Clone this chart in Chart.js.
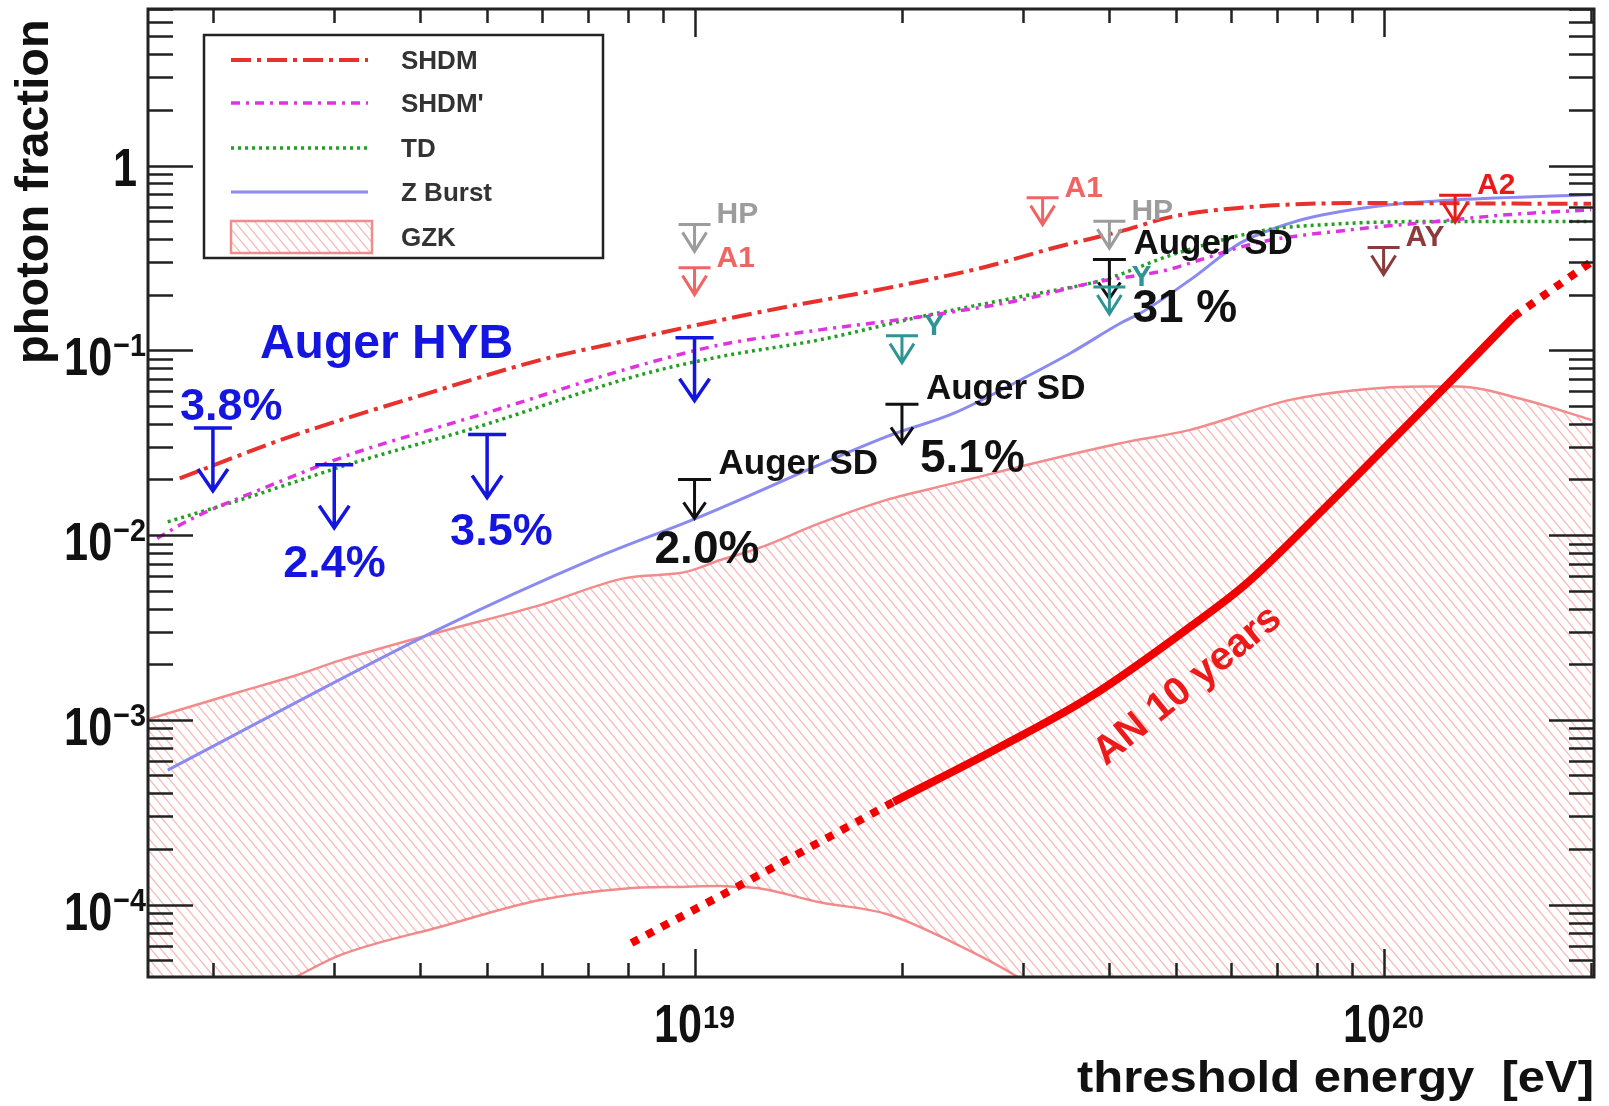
<!DOCTYPE html>
<html lang="en">
<head>
<meta charset="UTF-8" />
<title>Photon fraction limits</title>
<script src="https://cdn.jsdelivr.net/npm/chart.js"></script>
<style>
  html, body { margin: 0; padding: 0; background: #fff; }
  canvas { display: block; }
</style>
</head>
<body>
<canvas id="chart" width="1609" height="1106"></canvas>
<script>
// axis ranges
const xMin = 1.61e18, xMax = 2.02e20;
const yMin = 4.06e-5, yMax = 7.03;

// model curves: threshold energy [eV] vs photon fraction
const shdmE = [1.79e18, 2.59e18, 4.18e18, 5.98e18, 7.8e18, 1.008e19, 1.362e19, 1.902e19, 2.657e19, 3.316e19, 4.148e19, 4.95e19, 6.56e19, 9.16e19, 2.0e20];
const shdmF = [0.0203, 0.0341, 0.0598, 0.0887, 0.111, 0.137, 0.172, 0.217, 0.284, 0.358, 0.44, 0.53, 0.60, 0.626, 0.62];

const shdmPE = [1.66e18, 1.85e18, 2.34e18, 3.2e18, 4.28e18, 5.34e18, 7.89e18, 1.09e19, 1.52e19, 2.13e19, 2.97e19, 3.78e19, 4.85e19, 5.42e19, 6.56e19, 8.95e19, 1.14e20, 1.51e20, 2.0e20];
const shdmPF = [0.0096, 0.0121, 0.0176, 0.0277, 0.0386, 0.0496, 0.0783, 0.107, 0.129, 0.152, 0.187, 0.232, 0.272, 0.309, 0.382, 0.449, 0.49, 0.541, 0.576];

const tdE = [1.72e18, 2.19e18, 3.2e18, 4.78e18, 8.34e18, 1.09e19, 1.52e19, 2.13e19, 2.97e19, 3.92e19, 4.95e19, 6.77e19, 8.17e19, 1.14e20, 2.0e20];
const tdF = [0.0118, 0.0155, 0.0246, 0.0379, 0.0736, 0.0924, 0.114, 0.152, 0.195, 0.2405, 0.33, 0.4485, 0.478, 0.4975, 0.4975];

const zbE = [1.72e18, 4.28e18, 7.06e18, 1.02e19, 1.9e19, 2.38e19, 2.97e19, 3.51e19, 4.15e19, 4.44e19, 5.24e19, 6.19e19, 7.32e19, 8.17e19, 1.02e20, 1.28e20, 2.0e20];
const zbF = [5.35e-4, 3.13e-3, 7.33e-3, 0.0126, 0.0341, 0.0457, 0.0691, 0.0964, 0.140, 0.159, 0.2405, 0.380, 0.488, 0.541, 0.613, 0.652, 0.694];

const gzkE  = [1.6e18, 2.19e18, 2.65e18, 3.06e18, 4.28e18, 5.97e18, 7.89e18, 9.75e18, 1.09e19, 1.14e19, 1.25e19, 1.52e19, 1.9e19, 2.38e19, 2.9e19, 4.15e19, 5.24e19, 7.32e19, 9.16e19, 1.14e20, 1.28e20, 1.6e20, 2.0e20];
const gzkHi = [1.0e-3, 1.42e-3, 1.75e-3, 2.1e-3, 3.0e-3, 4.18e-3, 5.83e-3, 6.34e-3, 7.33e-3, 7.7e-3, 8.6e-3, 0.0116, 0.0155, 0.0191, 0.023, 0.0314, 0.0371, 0.0539, 0.061, 0.0636, 0.0636, 0.054, 0.042];
const gzkLo = [1.6e-5, 2.86e-5, 4.1e-5, 5.33e-5, 7.6e-5, 1.06e-4, 1.22e-4, 1.25e-4, 1.26e-4, 1.25e-4, 1.22e-4, 1.03e-4, 8.9e-5, 6.2e-5, 4.2e-5, 1.6e-5, 8e-6, 4e-6, 2.5e-6, 1.8e-6, 1.5e-6, 1.2e-6, 1e-6];

// AN 10 years sensitivity (solid part plus dotted extensions)
const anE = [1.945e19, 2.78e19, 3.75e19, 5.24e19, 6.3e19, 8.18e19, 1.023e20, 1.278e20, 1.544e20];
const anF = [3.6e-4, 7.15e-4, 1.33e-3, 3.19e-3, 5.4e-3, 0.0138, 0.0319, 0.0736, 0.152];
const anLowE = [8.1e18, 1.14e19, 1.945e19];
const anLowF = [6.2e-5, 1.22e-4, 3.6e-4];
const anHighE = [1.544e20, 2.0e20];
const anHighF = [0.152, 0.30];

// upper limits
const hybE = [2e18, 3e18, 5e18, 1e19];
const hybF = [0.038, 0.024, 0.035, 0.117];
const hybLabels = ['3.8%', '2.4%', '3.5%', ''];
const sdE = [1e19, 2e19, 4e19];
const sdF = [0.020, 0.051, 0.31];
const sdLabels = ['2.0%', '5.1%', '31 %'];
const hpE = [1e19, 4e19],  hpF = [0.48, 0.50];
const a1E = [1e19, 3.2e19], a1F = [0.28, 0.67];
const yE = [2e19, 4e19],   yF = [0.12, 0.22];
const ayE = [1e20],        ayF = [0.36];
const a2E = [1.27e20],     a2F = [0.69];

// axis ticks
const yTickVals = [1e-4, 1e-3, 1e-2, 1e-1, 1];
const yTickBase = ['10', '10', '10', '10', '1'];
const yTickExp  = ['\u22124', '\u22123', '\u22122', '\u22121', ''];
const xTickVals = [1e19, 1e20];
const xTickBase = ['10', '10'];
const xTickExp  = ['19', '20'];

// ---------- styles ----------
const FONT = '"Liberation Sans", Arial, Helvetica, sans-serif';
const sSHDM  = { color: '#e8302c', width: 4,   dash: [20, 6, 4, 6] };
const sSHDMp = { color: '#e033e0', width: 3.5, dash: [9, 6, 3, 6] };
const sTD    = { color: '#22a022', width: 3.5, dash: [3, 4] };
const sZB    = { color: '#8a8af0', width: 3,   dash: [] };
const sGZK   = { color: '#f28c8c', width: 2.5, dash: [] };
const sAN    = { color: '#f20000', width: 8 };

function hatch() {
  const c = document.createElement('canvas');
  c.width = 10; c.height = 12;
  const g = c.getContext('2d');
  g.strokeStyle = 'rgba(240,100,100,0.45)';
  g.lineWidth = 1.3;
  for (let k = -1; k <= 1; k++) {
    g.beginPath();
    g.moveTo(k * 10 - 5, -6);
    g.lineTo(k * 10 + 15, 18);
    g.stroke();
  }
  return g.createPattern(c, 'repeat');
}
const hatchFill = hatch();

const pts = (E, F) => E.map((e, i) => ({ x: e, y: F[i] }));

function curve(label, E, F, s, extra) {
  return Object.assign({
    label: label,
    data: pts(E, F),
    borderColor: s.color,
    borderWidth: s.width,
    borderDash: s.dash || [],
    pointRadius: 0,
    fill: false,
    cubicInterpolationMode: 'monotone'
  }, extra || {});
}

// ---------- drawing helpers ----------
function txt(ctx, s, x, y, font, color, align, sx) {
  sx = sx || 1;
  ctx.save();
  ctx.font = font;
  ctx.fillStyle = color;
  ctx.textAlign = 'left';
  ctx.textBaseline = 'alphabetic';
  const w = ctx.measureText(s).width * sx;
  const x0 = align === 'right' ? x - w : align === 'center' ? x - w / 2 : x;
  ctx.translate(x0, y);
  ctx.scale(sx, 1);
  ctx.fillText(s, 0, 0);
  ctx.restore();
  return w;
}
function measure(ctx, s, font, sx) {
  ctx.save(); ctx.font = font;
  const w = ctx.measureText(s).width * (sx || 1);
  ctx.restore();
  return w;
}
function limit(ctx, x, y, st) {
  ctx.save();
  ctx.strokeStyle = st.color;
  ctx.lineWidth = st.lw;
  ctx.lineCap = 'butt';
  ctx.lineJoin = 'miter';
  ctx.beginPath();
  ctx.moveTo(x - st.cap / 2, y); ctx.lineTo(x + st.cap / 2, y);
  ctx.moveTo(x, y); ctx.lineTo(x, y + st.len);
  ctx.moveTo(x - st.hw / 2, y + st.len - st.hh);
  ctx.lineTo(x, y + st.len);
  ctx.lineTo(x + st.hw / 2, y + st.len - st.hh);
  ctx.stroke();
  ctx.restore();
}

const bigArrow   = { cap: 38, len: 63, hw: 30, hh: 22, lw: 3.5, color: '#1515e0' };
const sdArrow    = { cap: 33, len: 39, hw: 22, hh: 16, lw: 3, color: '#111111' };
const smallArrow = { cap: 32, len: 27, hw: 24, hh: 19, lw: 3 };
const hybOffsets = [[-33, -8], [-51, 112], [-37, 110], [0, 0]];
const sdOffsets  = [[-40, 84], [18, 68], [23, 63]];

const rootStyle = {
  id: 'rootStyle',
  afterDatasetsDraw(chart) {
    const ctx = chart.ctx, ca = chart.chartArea;
    const xs = chart.scales.x, ys = chart.scales.y;
    const X = v => xs.getPixelForValue(v), Y = v => ys.getPixelForValue(v);

    // Auger hybrid limits
    hybE.forEach((e, i) => {
      const cx = X(e), cy = Y(hybF[i]);
      limit(ctx, cx, cy, bigArrow);
      if (hybLabels[i]) txt(ctx, hybLabels[i], cx + hybOffsets[i][0], cy + hybOffsets[i][1], 'bold 45px ' + FONT, '#1515e0');
    });
    txt(ctx, 'Auger HYB', X(2.34e18), Y(0.091), 'bold 48px ' + FONT, '#1515e0');

    // Auger SD limits
    sdE.forEach((e, i) => {
      const cx = X(e), cy = Y(sdF[i]);
      limit(ctx, cx, cy, sdArrow);
      txt(ctx, 'Auger SD', cx + 24, cy - 5, 'bold 35px ' + FONT, '#111');
      txt(ctx, sdLabels[i], cx + sdOffsets[i][0], cy + sdOffsets[i][1], 'bold 46px ' + FONT, '#111');
    });

    // other experiments
    const small = [
      [hpE, hpF, 'HP', '#9c9c9c'],
      [a1E, a1F, 'A1', '#f06464'],
      [yE, yF, 'Y', '#2f9494'],
      [ayE, ayF, 'AY', '#8b3b3b'],
      [a2E, a2F, 'A2', '#e81a1a']
    ];
    small.forEach(([E, F, name, col]) => {
      E.forEach((e, i) => {
        const cx = X(e), cy = Y(F[i]);
        limit(ctx, cx, cy, Object.assign({ color: col }, smallArrow));
        txt(ctx, name, cx + 22, cy - 1, 'bold 30px ' + FONT, col);
      });
    });

    // AN label along the curve
    ctx.save();
    ctx.translate(X(3.95e19), Y(5.6e-4));
    ctx.rotate(-39 * Math.PI / 180);
    txt(ctx, 'AN 10 years', 0, 0, 'bold 40px ' + FONT, '#ee1a1a');
    ctx.restore();

    // frame
    ctx.save();
    ctx.strokeStyle = '#222';
    ctx.lineWidth = 2.5;
    ctx.beginPath();
    for (let d = -5; d <= 0; d++) {
      for (let m = 1; m <= 9; m++) {
        const v = m * Math.pow(10, d);
        if (v < yMin || v > yMax) continue;
        const y = Math.round(Y(v)) + 0.5;
        const len = m === 1 ? 45 : 25;
        ctx.moveTo(ca.left, y); ctx.lineTo(ca.left + len, y);
        ctx.moveTo(ca.right, y); ctx.lineTo(ca.right - len, y);
      }
    }
    for (let d = 18; d <= 20; d++) {
      for (let m = 1; m <= 9; m++) {
        const v = m * Math.pow(10, d);
        if (v < xMin || v > xMax) continue;
        const x = Math.round(X(v)) + 0.5;
        const len = m === 1 ? 28 : 14;
        ctx.moveTo(x, ca.bottom); ctx.lineTo(x, ca.bottom - len);
        ctx.moveTo(x, ca.top); ctx.lineTo(x, ca.top + len);
      }
    }
    ctx.stroke();
    ctx.lineWidth = 3;
    ctx.strokeRect(ca.left, ca.top, ca.right - ca.left, ca.bottom - ca.top);
    ctx.restore();

    // tick labels
    const baseFont = 'bold 54px ' + FONT, expFont = 'bold 32px ' + FONT;
    yTickVals.forEach((v, i) => {
      const y = Y(v);
      if (!yTickExp[i]) {
        txt(ctx, yTickBase[i], 137, y + 20, baseFont, '#111', 'right', 0.8);
        return;
      }
      const ew = txt(ctx, yTickExp[i], 146, y + 6, expFont, '#111', 'right', 0.9);
      txt(ctx, yTickBase[i], 146 - ew - 1, y + 25, baseFont, '#111', 'right', 0.8);
    });
    xTickVals.forEach((v, i) => {
      const x = X(v);
      const bw = measure(ctx, xTickBase[i], baseFont, 0.8);
      const ew = measure(ctx, xTickExp[i], expFont, 0.9);
      const x0 = x - (bw + ew + 1) / 2;
      txt(ctx, xTickBase[i], x0, 1042, baseFont, '#111', 'left', 0.8);
      txt(ctx, xTickExp[i], x0 + bw + 1, 1028, expFont, '#111', 'left', 0.9);
    });

    // axis titles
    const tf = 'bold 44px ' + FONT;
    const tw = measure(ctx, 'threshold energy  [eV]', tf);
    txt(ctx, 'threshold energy  [eV]', ca.right, 1092, tf, '#111', 'right', 517 / tw);
    ctx.save();
    ctx.translate(48, 364);
    ctx.rotate(-Math.PI / 2);
    txt(ctx, 'photon fraction', 0, 0, 'bold 47px ' + FONT, '#111');
    ctx.restore();

    // legend
    const lx = ca.left + 56, ly = ca.top + 26, lw = 399, lh = 223;
    ctx.save();
    ctx.fillStyle = '#fff';
    ctx.fillRect(lx, ly, lw, lh);
    ctx.strokeStyle = '#222';
    ctx.lineWidth = 2.5;
    ctx.strokeRect(lx, ly, lw, lh);
    const rows = [['SHDM', sSHDM, 25], ['SHDM\'', sSHDMp, 68], ['TD', sTD, 113], ['Z Burst', sZB, 157]];
    rows.forEach(([name, s, dy]) => {
      ctx.strokeStyle = s.color;
      ctx.lineWidth = s.width;
      ctx.setLineDash(s.dash);
      ctx.beginPath();
      ctx.moveTo(lx + 27, ly + dy); ctx.lineTo(lx + 164, ly + dy);
      ctx.stroke();
      ctx.setLineDash([]);
      txt(ctx, name, lx + 197, ly + dy + 9, 'bold 26px ' + FONT, '#333');
    });
    ctx.fillStyle = hatchFill;
    ctx.fillRect(lx + 27, ly + 186, 141, 32);
    ctx.strokeStyle = sGZK.color;
    ctx.lineWidth = 2.5;
    ctx.strokeRect(lx + 27, ly + 186, 141, 32);
    txt(ctx, 'GZK', lx + 197, ly + 211, 'bold 26px ' + FONT, '#333');
    ctx.restore();
  }
};

new Chart(document.getElementById('chart'), {
  type: 'scatter',
  data: {
    datasets: [
      curve('AN 10 years', anE, anF, sAN, { borderCapStyle: 'butt' }),
      curve('AN low', anLowE, anLowF, sAN, { borderDash: [8, 9], cubicInterpolationMode: 'default', tension: 0 }),
      curve('AN high', anHighE, anHighF, sAN, { borderDash: [8, 9], cubicInterpolationMode: 'default', tension: 0 }),
      curve('SHDM', shdmE, shdmF, sSHDM),
      curve('SHDM\'', shdmPE, shdmPF, sSHDMp),
      curve('TD', tdE, tdF, sTD),
      curve('Z Burst', zbE, zbF, sZB),
      curve('GZK', gzkE, gzkHi, sGZK, { fill: '+1', backgroundColor: hatchFill }),
      curve('GZK low', gzkE, gzkLo, sGZK)
    ]
  },
  options: {
    responsive: false,
    devicePixelRatio: 1,
    animation: false,
    showLine: true,
    layout: { padding: { left: 148, top: 9, right: 15, bottom: 129 } },
    scales: {
      x: { type: 'logarithmic', min: xMin, max: xMax, bounds: 'data', display: false },
      y: { type: 'logarithmic', min: yMin, max: yMax, bounds: 'data', display: false }
    },
    plugins: {
      legend: { display: false },
      tooltip: { enabled: false }
    }
  },
  plugins: [rootStyle]
});
</script>
</body>
</html>
